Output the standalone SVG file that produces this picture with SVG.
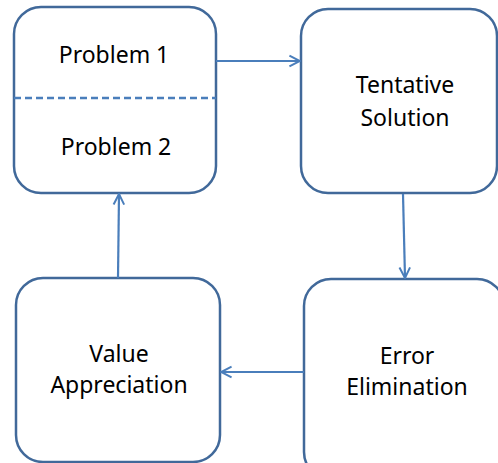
<svg xmlns="http://www.w3.org/2000/svg" width="498" height="463" viewBox="0 0 498 463">
<defs>
<style>
.box{fill:#fff;stroke:#41699a;stroke-width:2.5}
.lbl{font-family:"Noto Sans","Liberation Sans",sans-serif;font-size:23px;fill:#000;text-anchor:middle}
.conn{stroke:#4a7ebb;stroke-width:2.2;fill:none;marker-end:url(#arr)}
</style>
<marker id="arr" viewBox="0 0 10 10" refX="9" refY="5" markerWidth="6" markerHeight="6" orient="auto" markerUnits="strokeWidth">
<path d="M1,1 L9,5 L1,9" fill="none" stroke="#4a7ebb" stroke-width="1.5"/>
</marker>
</defs>
<rect width="498" height="463" fill="#fff"/>
<g id="problems">
<rect class="box" x="14" y="7" width="202" height="186" rx="27"/>
<line x1="14" y1="98" x2="216" y2="98" stroke="#4a7ebb" stroke-width="2.5" stroke-dasharray="7,4"/>
<text class="lbl" x="114" y="63">Problem 1</text>
<text class="lbl" x="116" y="155">Problem 2</text>
</g>
<g id="tentative">
<rect class="box" x="301" y="9" width="196" height="184" rx="27"/>
<text class="lbl" x="405" y="93">Tentative</text>
<text class="lbl" x="405" y="126">Solution</text>
</g>
<g id="value">
<rect class="box" x="16" y="278" width="204" height="184" rx="27"/>
<text class="lbl" x="119" y="362">Value</text>
<text class="lbl" x="119" y="393">Appreciation</text>
</g>
<g id="error">
<rect class="box" x="304" y="279" width="200" height="200" rx="27"/>
<text class="lbl" x="407" y="364">Error</text>
<text class="lbl" x="407" y="395">Elimination</text>
</g>
<g id="connectors">
<line class="conn" x1="216" y1="61" x2="300" y2="61"/>
<line class="conn" x1="403" y1="194" x2="405" y2="278"/>
<line class="conn" x1="304" y1="372" x2="221" y2="372"/>
<line class="conn" x1="118" y1="278" x2="119" y2="194"/>
</g>
</svg>
